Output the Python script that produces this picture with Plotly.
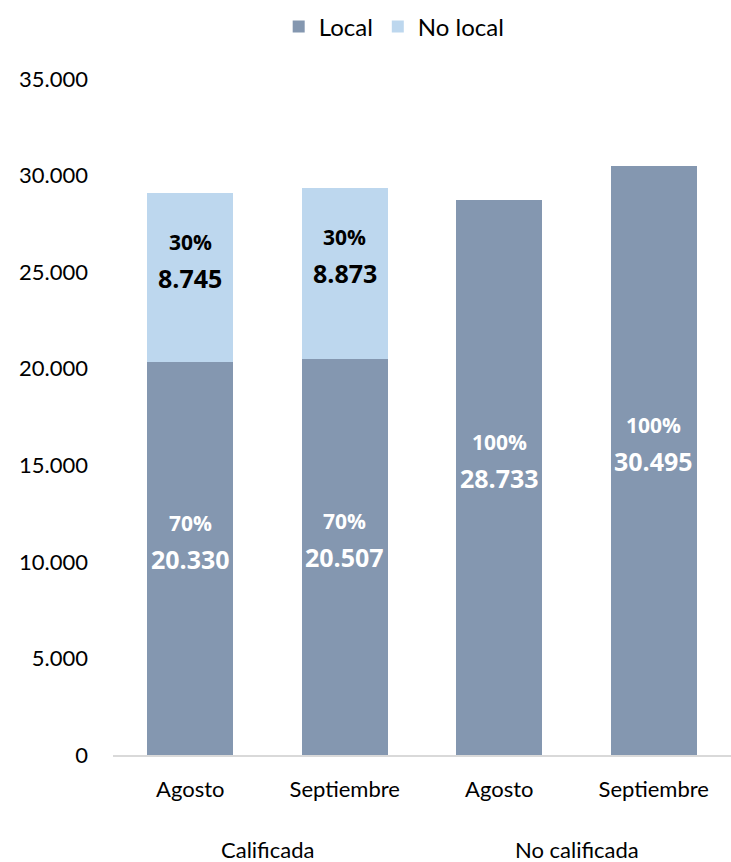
import plotly.graph_objects as go

groups = ["Calificada", "No calificada"]
months = ["Agosto", "Septiembre", "Agosto", "Septiembre"]
local_vals = [20330, 20507, 28733, 30495]
nolocal_vals = [8745, 8873, 0, 0]
local_pct = ["70%", "70%", "100%", "100%"]
nolocal_pct = ["30%", "30%", "", ""]
y_ticks = [0, 5000, 10000, 15000, 20000, 25000, 30000, 35000]
y_tick_labels = ["0", "5.000", "10.000", "15.000", "20.000", "25.000", "30.000", "35.000"]

x_idx = list(range(len(months)))


def fmt(v):
    return f"{v:,}".replace(",", ".")


fig = go.Figure()
fig.add_trace(go.Bar(
    name="Local", x=x_idx, y=local_vals,
    marker=dict(color="#8497b0", line=dict(width=0)),
    hoverinfo="skip",
))
fig.add_trace(go.Bar(
    name="No local", x=x_idx, y=nolocal_vals,
    marker=dict(color="#bdd7ee", line=dict(width=0)),
    hoverinfo="skip",
))

# data labels: value at segment centre, percentage above it
for i in x_idx:
    segs = [
        (0, local_vals[i], local_pct[i], "white"),
        (local_vals[i], nolocal_vals[i], nolocal_pct[i], "black"),
    ]
    for base, val, pct, col in segs:
        if not val:
            continue
        mid = base + val / 2
        fig.add_annotation(
            x=i, y=mid, xref="x", yref="y", text=f"<b>{fmt(val)}</b>",
            showarrow=False, yanchor="middle",
            font=dict(family="Open Sans", size=25, color=col),
        )
        fig.add_annotation(
            x=i, y=mid, xref="x", yref="y", text=f"<b>{pct}</b>",
            showarrow=False, yanchor="middle", yshift=36,
            font=dict(family="Open Sans", size=21, color=col),
        )

# group labels beneath the month labels
for gi, g in enumerate(groups):
    fig.add_annotation(
        x=gi * 2 + 0.5, xref="x", y=-0.14, yref="paper",
        text=g, showarrow=False, yanchor="middle",
        font=dict(family="Lato", size=22, color="black"),
    )

fig.update_layout(
    barmode="stack",
    bargap=0.445,
    width=731, height=862,
    margin=dict(l=113, r=0, t=79, b=107),
    paper_bgcolor="white", plot_bgcolor="white",
    font=dict(family="Lato", size=21, color="black"),
    showlegend=True,
    legend=dict(orientation="h", x=0.455, xanchor="center", y=1.077, yanchor="middle",
                font=dict(size=24), itemwidth=30, traceorder="normal"),
)
fig.update_xaxes(
    range=[-0.5, len(months) - 0.5], tickvals=x_idx, ticktext=months,
    showline=True, linecolor="#d9d9d9", linewidth=2, ticks="",
    tickfont=dict(size=22), automargin=False, ticklabelstandoff=14,
    showgrid=False, zeroline=False,
)
fig.update_yaxes(
    range=[0, 35000], tickvals=y_ticks, ticktext=y_tick_labels,
    showgrid=False, zeroline=False, showline=False, ticks="",
    tickfont=dict(size=22), ticklabelstandoff=24, automargin=False,
)

fig.write_html("out.html", config={"displayModeBar": False},
               post_script="document.body.style.margin='0';")
